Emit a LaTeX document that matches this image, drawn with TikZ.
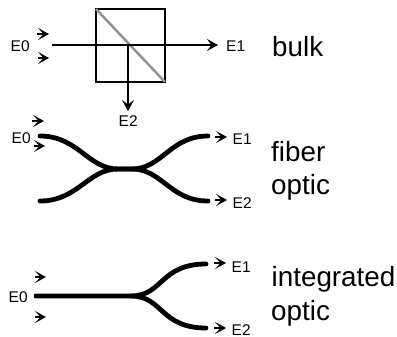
\documentclass[tikz,border=0pt]{standalone}
\usepackage{fontspec}
\setmainfont{Liberation Sans}
\usetikzlibrary{arrows.meta}
\tikzset{
  x=1pt,y=-1pt,
  beam/.style={line width=1.9pt,black,-{Stealth[length=11pt,width=12pt,inset=4.5pt]}},
  pol/.style={line width=1.3pt,black,-{Stealth[length=11pt,width=12pt,inset=5.5pt]}},
  guide/.style={line width=4.8pt,black,line cap=round},
  lab/.style={font=\fontsize{15.5}{15.5}\selectfont,inner sep=0pt,anchor=base west,text=black},
  big/.style={font=\fontsize{27.8}{27.8}\selectfont,inner sep=0pt,anchor=base west,text=black},
}
\begin{document}
\begin{tikzpicture}
\useasboundingbox (0,0) rectangle (397,337);
% bulk
\coordinate (c1) at (96,9);\coordinate (c2) at (165,82);
\coordinate (bs) at (128,45);
\draw[line width=1.9pt] (c1) rectangle (c2);
\draw[line width=2.5pt,gray!85] (c1) -- (c2);
\node[lab] (e0a) at (10.5,52) {E0};
\node[lab] (e1a) at (226,52) {E1};
\node[lab] (e2a) at (118.5,127) {E2};
\coordinate (ia) at (52,45);
\coordinate (oa) at (218,45);
\coordinate (ob) at (128,111);
\draw[beam] (ia) -- (oa);
\draw[beam] (bs) -- (ob);
\node[big] (tbulk) at (272,57) {bulk};
% small arrows
\draw[pol] (37,34) -- (49,34);
\draw[pol] (38,58) -- (49,58);
\draw[pol] (32,121) -- (44,121);
\draw[pol] (34,146) -- (45,146);
% fiber
\node[lab] (e0b) at (11.5,144) {E0};
\node[lab] (e1b) at (232.5,145) {E1};
\node[lab] (e2b) at (232.5,208) {E2};
\coordinate (f1) at (40,136);\coordinate (f2) at (40,201);
\coordinate (f3) at (208,136);\coordinate (f4) at (208,201);
\coordinate (fa) at (118,169);\coordinate (fb) at (132,169);
\draw[guide] (f1) .. controls (78,136) and (88,169) .. (fa) -- (fb) .. controls (162,169) and (170,201) .. (f4);
\draw[guide] (f2) .. controls (78,201) and (88,169) .. (fa) -- (fb) .. controls (162,169) and (170,136) .. (f3);
\draw[pol] (215,137) -- (227,137);
\draw[pol] (215,200) -- (227,200);
\node[big] (tfib) at (271,162) {fiber};
\node[big] (topa) at (271,195) {optic};
% integrated
\node[lab] (e0c) at (8.5,302) {E0};
\node[lab] (e1c) at (231.5,272) {E1};
\node[lab] (e2c) at (231.5,335) {E2};
\coordinate (g0) at (36,296);\coordinate (g1) at (131,296);
\coordinate (g2) at (206,264);\coordinate (g3) at (206,328);
\draw[guide] (g0) -- (g1) .. controls (163,296) and (160,264) .. (g2);
\draw[guide] (g1) .. controls (163,296) and (160,328) .. (g3);
\draw[pol] (35,277) -- (46,277);
\draw[pol] (35,317) -- (46,317);
\draw[pol] (214,263) -- (226,263);
\draw[pol] (214,328) -- (226,328);
\node[big] (tint) at (271.5,287) {integrated};
\node[big] (topb) at (271,320) {optic};
\end{tikzpicture}
\end{document}
